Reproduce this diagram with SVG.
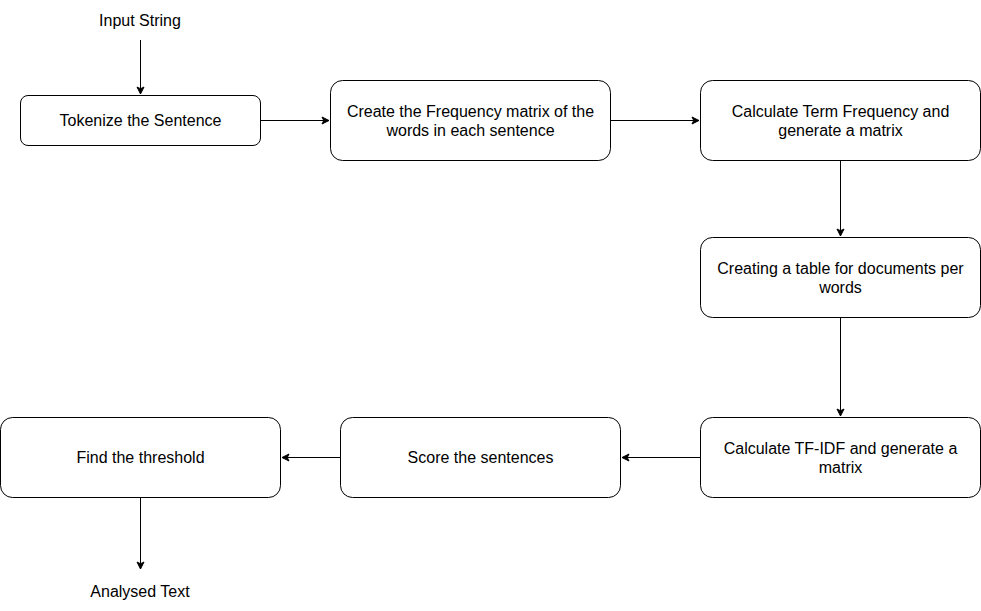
<svg xmlns="http://www.w3.org/2000/svg" width="981" height="611" viewBox="0 0 981 611">
<style>
.box{fill:#fff;stroke:#000;stroke-width:1}
.lbl{font-family:"Liberation Sans",Arial,sans-serif;font-size:16px;fill:#000;text-anchor:middle}
.edge{fill:none;stroke:#000;stroke-width:1}
</style>
<defs>
<marker id="arr" markerUnits="userSpaceOnUse" markerWidth="10" markerHeight="10" viewBox="-8 -5 10 10" refX="0" refY="0" orient="auto">
<path d="M0,0 L-7,-3.5 L-5.25,0 L-7,3.5 Z" fill="#000" stroke="#000" stroke-width="1"/>
</marker>
</defs>
<rect width="981" height="611" fill="#fff"/>
<g id="connectors">
<path class="edge" d="M140.5,40 L140.5,94" marker-end="url(#arr)"/>
<path class="edge" d="M260.5,120.5 L329,120.5" marker-end="url(#arr)"/>
<path class="edge" d="M610.5,120.5 L699,120.5" marker-end="url(#arr)"/>
<path class="edge" d="M840.5,160.5 L840.5,236" marker-end="url(#arr)"/>
<path class="edge" d="M840.5,317.5 L840.5,416" marker-end="url(#arr)"/>
<path class="edge" d="M700.5,457.5 L622,457.5" marker-end="url(#arr)"/>
<path class="edge" d="M340.5,457.5 L282,457.5" marker-end="url(#arr)"/>
<path class="edge" d="M140.5,497.5 L140.5,569" marker-end="url(#arr)"/>
</g>
<g id="input"><text class="lbl" x="140" y="26">Input String</text></g>
<g id="tokenize"><rect class="box" x="20.5" y="95.5" width="240" height="50" rx="7.5"/><text class="lbl" x="140.5" y="125.5">Tokenize the Sentence</text></g>
<g id="freq"><rect class="box" x="330.5" y="80.5" width="280" height="80" rx="12"/><text class="lbl" x="470.5" y="117">Create the Frequency matrix of the</text><text class="lbl" x="470.5" y="136">words in each sentence</text></g>
<g id="tf"><rect class="box" x="700.5" y="80.5" width="280" height="80" rx="12"/><text class="lbl" x="840.5" y="117">Calculate Term Frequency and</text><text class="lbl" x="840.5" y="136">generate a matrix</text></g>
<g id="table"><rect class="box" x="700.5" y="237.5" width="280" height="80" rx="12"/><text class="lbl" x="840.5" y="274">Creating a table for documents per</text><text class="lbl" x="840.5" y="293">words</text></g>
<g id="tfidf"><rect class="box" x="700.5" y="417.5" width="280" height="80" rx="12"/><text class="lbl" x="840.5" y="454">Calculate TF-IDF and generate a</text><text class="lbl" x="840.5" y="473">matrix</text></g>
<g id="score"><rect class="box" x="340.5" y="417.5" width="280" height="80" rx="12"/><text class="lbl" x="480.5" y="463">Score the sentences</text></g>
<g id="threshold"><rect class="box" x="0.5" y="417.5" width="280" height="80" rx="12"/><text class="lbl" x="140.5" y="463">Find the threshold</text></g>
<g id="output"><text class="lbl" x="140" y="596.5">Analysed Text</text></g>
</svg>
